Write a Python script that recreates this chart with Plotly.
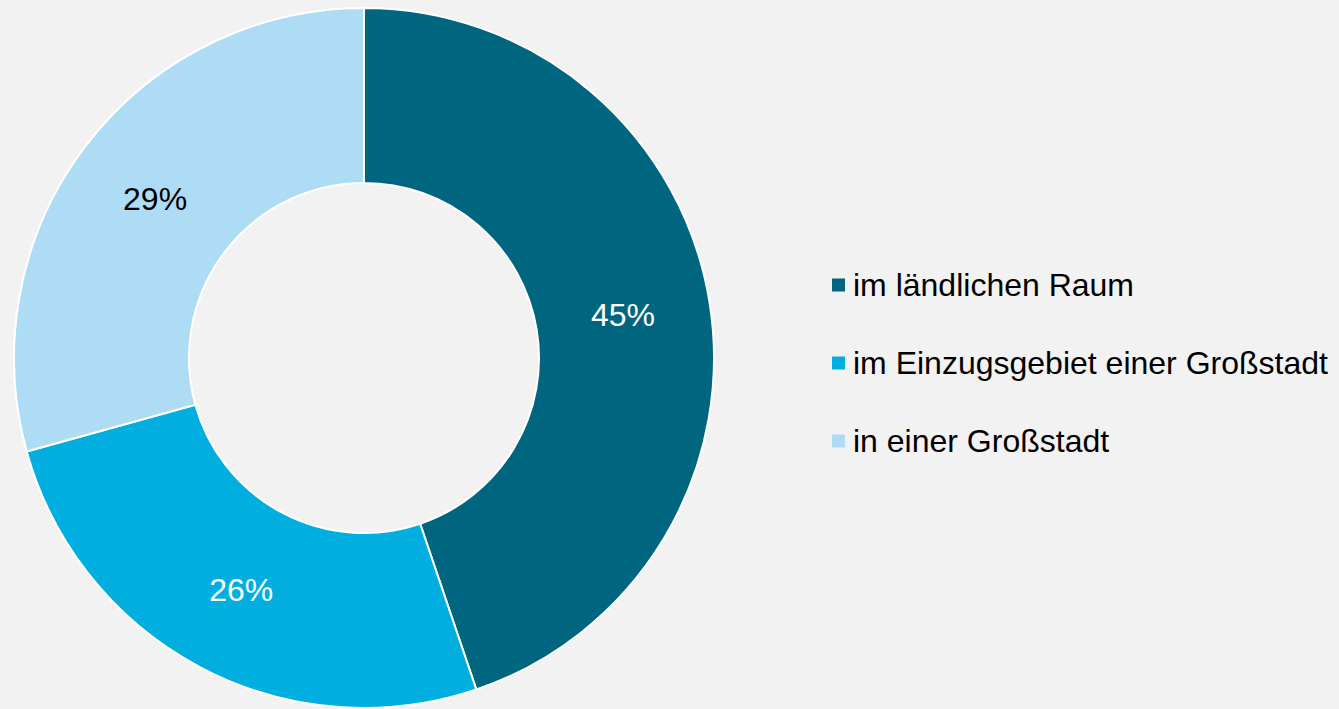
import plotly.graph_objects as go

categories = ["im ländlichen Raum", "im Einzugsgebiet einer Großstadt", "in einer Großstadt"]
values = [44.8, 25.9, 29.3]
labels_text = ["45%", "26%", "29%"]
colors = ["#006680", "#00AEDF", "#AEDCF5"]
text_colors = ["#FFFFFF", "#FFFFFF", "#000000"]

W, H = 1339, 709
FONT = "Liberation Sans, Arial, sans-serif"

fig = go.Figure(go.Pie(
    labels=categories,
    values=values,
    text=labels_text,
    textinfo="text",
    textposition="inside",
    insidetextorientation="horizontal",
    textfont=dict(family=FONT, size=32, color=text_colors),
    marker=dict(colors=colors, line=dict(color="#FFFFFF", width=2)),
    hole=0.5,
    sort=False,
    direction="clockwise",
    rotation=0,
    domain=dict(x=[14 / W, 714 / W], y=[1 - 708 / H, 1 - 8 / H]),
    showlegend=False,
    hoverinfo="label+text",
))

# legend drawn as squares + text
leg_y = [285, 363, 441]
for cat, col, yp in zip(categories, colors, leg_y):
    fig.add_shape(type="rect", xref="paper", yref="paper",
                  x0=832 / W, x1=845 / W, y0=1 - (yp + 6.5) / H, y1=1 - (yp - 6.5) / H,
                  fillcolor=col, line=dict(width=0))
    fig.add_annotation(xref="paper", yref="paper", x=851 / W, y=1 - yp / H,
                       xanchor="left", yanchor="middle", showarrow=False,
                       text=cat, font=dict(family=FONT, size=32, color="#000000"))

fig.update_layout(
    width=W, height=H,
    margin=dict(l=0, r=0, t=0, b=0),
    paper_bgcolor="#F2F2F2",
    plot_bgcolor="#F2F2F2",
)

fig.write_html("out.html", config={"displayModeBar": False},
               post_script="document.body.style.margin='0';document.body.style.overflow='hidden';")
